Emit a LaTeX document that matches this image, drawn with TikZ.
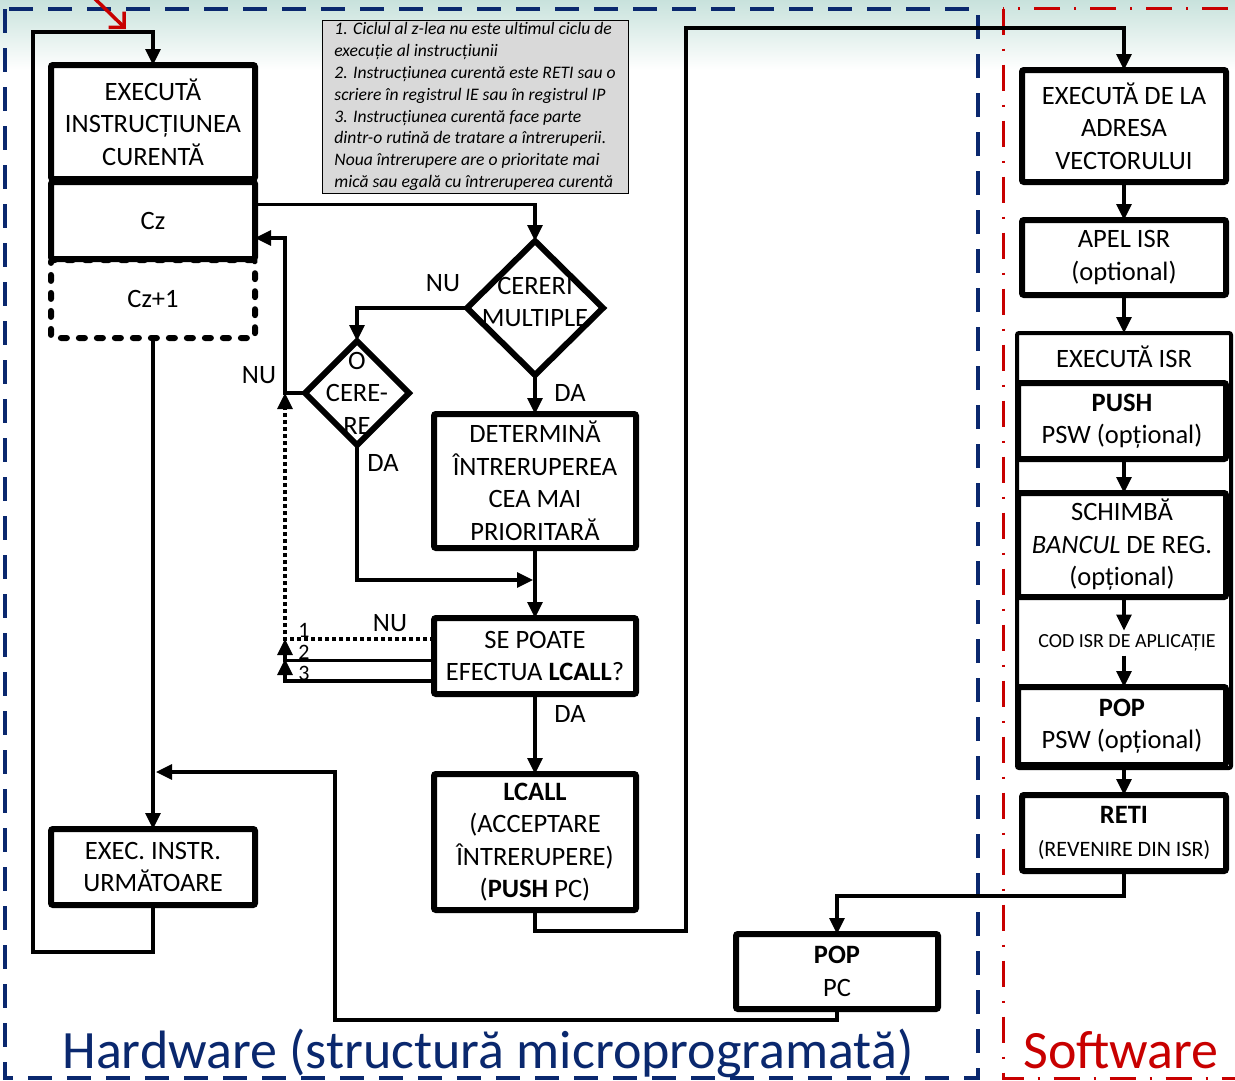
\documentclass[tikz,border=0pt]{standalone}
\usepackage{fontspec}
\setmainfont{Carlito}
\usetikzlibrary{arrows.meta,shapes.geometric}

\definecolor{hwblue}{RGB}{10,40,110}
\definecolor{swred}{RGB}{200,0,0}
\definecolor{notegray}{RGB}{217,217,217}
\definecolor{topteal}{RGB}{200,226,220}

\begin{document}
\begin{tikzpicture}[x=1pt,y=-1pt,
  every node/.style={inner sep=0pt, outer sep=0pt},
  txt/.style={font=\fontsize{26.5}{32.5}\selectfont, align=center},
  block/.style={txt, draw, line width=6pt, fill=white, rounded corners=2pt, minimum width=204pt},
  decision/.style={diamond, draw, line width=6pt, fill=white, inner sep=0pt},
  conn/.style={line width=3.2pt},
  arr/.style={conn, -{Triangle[length=16pt,width=15pt]}},
  lbl/.style={font=\fontsize{26.5}{32.5}\selectfont},
  num/.style={font=\fontsize{22}{24}\selectfont},
  region/.style={font=\fontsize{54}{60}\selectfont, anchor=base},
]
\useasboundingbox (0,0) rectangle (1235,1080);
\clip (0,0) rectangle (1235,1080);

% soft band along the top edge
\fill[top color=topteal, bottom color=white] (0,0) rectangle (1235,70);

% hardware / software frames
\draw[hwblue, line width=3.5pt, dash pattern=on 24pt off 15pt] (5,9) rectangle (978,1078);
\draw[swred, line width=3pt, dash pattern=on 26pt off 14pt on 2pt off 14pt] (1003,8.5) rectangle (1250,1078);

% ---------------- hardware column ----------------
\node[txt, draw, line width=6pt, rounded corners=2pt, dash pattern=on 6pt off 12pt, line cap=round,
      minimum width=204pt, minimum height=78pt] (czone) at (153,299) {Cz+1};
\node[block, minimum height=114pt] (execcur) at (153,122) {EXECUTĂ\\INSTRUCȚIUNEA\\CURENTĂ};
\node[block, minimum height=77pt] (cz) at (153,220.5) {Cz};
\node[block, minimum height=76pt] (nextinstr) at (153,867) {EXEC. INSTR.\\URMĂTOARE};

\node[draw, line width=1pt, fill=notegray, minimum width=306pt, minimum height=173pt,
      align=left, font=\fontsize{17.6}{21.9}\selectfont\itshape] (note) at (475,106.5)
  {1. Ciclul al z-lea nu este ultimul ciclu de\\
   execuție al instrucțiunii\\
   2. Instrucțiunea curentă este RETI sau o\\
   scriere în registrul IE sau în registrul IP\\
   3. Instrucțiunea curentă face parte\\
   dintr-o rutină de tratare a întreruperii.\\
   Noua întrerupere are o prioritate mai\\
   mică sau egală cu întreruperea curentă};

\node[decision, minimum width=136pt, minimum height=134pt] (cereri) at (535,308) {};
\node[txt] (cereritext) at (535,302) {CERERI\\MULTIPLE};
\node[decision, minimum width=104pt, minimum height=104pt] (ocerere) at (357,393) {};
\node[txt] (ocereretext) at (357,393) {O\\CERE-\\RE};

\node[block, minimum width=202pt, minimum height=134pt] (determ) at (535,481) {DETERMINĂ\\ÎNTRERUPEREA\\CEA MAI\\PRIORITARĂ};
\node[block, minimum width=202pt, minimum height=76pt] (sepoate) at (535,656) {SE POATE\\EFECTUA \textbf{LCALL}?};
\node[block, minimum width=202pt, minimum height=136pt] (lcall) at (535,842) {\textbf{LCALL}\\(ACCEPTARE\\ÎNTRERUPERE)\\(\textbf{PUSH} PC)};
\node[block, minimum width=202pt, minimum height=75pt] (poppc) at (837,971.5) {\textbf{POP}\\PC};

% ---------------- software column ----------------
\node[block, minimum height=112pt] (vector) at (1124,126) {EXECUTĂ DE LA\\ADRESA\\VECTORULUI};
\node[block, minimum height=75pt] (apel) at (1124,257.5) {APEL ISR\\(optional)};
\node[draw, line width=4pt, fill=white, rounded corners=2pt, minimum width=214pt, minimum height=435pt] (isr) at (1124,550.5) {};
\node[txt] (isrtitle) at (1124,357) {EXECUTĂ ISR};
\node[block, minimum width=208pt, minimum height=76pt] (push) at (1122,421) {\textbf{PUSH}\\PSW (opțional)};
\node[block, minimum width=208pt, minimum height=104pt] (schimba) at (1122,545) {SCHIMBĂ\\\textit{BANCUL} DE REG.\\(opțional)};
\node[font=\fontsize{20}{24}\selectfont, minimum height=25pt] (cod) at (1127,643) {COD ISR DE APLICAȚIE};
\node[block, minimum width=208pt, minimum height=78pt] (pop) at (1122,726) {\textbf{POP}\\PSW (opțional)};
\node[block, minimum height=76pt] (reti) at (1124,833) {\textbf{RETI}\\{\fontsize{22}{27}\selectfont (REVENIRE DIN ISR)}};

% ---------------- bend points ----------------
\coordinate (loopbl) at (33,952);
\coordinate (looptl) at (33,32);
\coordinate (jx) at (285,393);
\coordinate (t1) at (285,639);
\coordinate (t2) at (285,659);
\coordinate (mrg) at (533,580);
\coordinate (lc1) at (686,931);
\coordinate (lc2) at (686,28);
\coordinate (rb) at (1124,896);
\coordinate (pb1) at (335,1020);
\coordinate (pb2) at (335,772);
\coordinate (pb3) at (156,772);
\coordinate (redtail) at (90,-6);
\coordinate (redhead) at (126,29);

% ---------------- connectors ----------------
\draw[arr] (nextinstr.south) |- (loopbl) -- (looptl) -| (execcur.north);
\draw[arr] (czone.south) -- (nextinstr.north);
\draw[arr] ([yshift=16pt]cz.east) -| (cereri.north);
\draw[arr] (cereri.west) -| (ocerere.north);
\draw[arr] (ocerere.west) -- (jx) |- ([yshift=-17.5pt]cz.east);
\draw[arr] (ocerere.south) |- (mrg);
\draw[arr] (cereri.south) -- (determ.north);
\draw[arr] (determ.south) -- (sepoate.north);
\draw[conn, dash pattern=on 4pt off 3pt, -{Triangle[length=16pt,width=15pt]}] ([yshift=17pt]sepoate.west) -| (jx);
\draw[arr] ([yshift=-4.5pt]sepoate.west) -| (t1);
\draw[arr] ([yshift=-25pt]sepoate.west) -| (t2);
\draw[arr] (sepoate.south) -- (lcall.north);
\draw[arr] (lcall.south) |- (lc1) -- (lc2) -| (vector.north);
\draw[arr] (vector.south) -- (apel.north);
\draw[arr] (apel.south) -- (isr.north);
\draw[arr] (push.south -| isr) -- (schimba.north -| isr);
\draw[arr] (schimba.south -| isr) -- (cod.north -| isr);
\draw[arr] (cod.south -| isr) -- (pop.north -| isr);
\draw[arr] (isr.south) -- (reti.north);
\draw[arr] (reti.south) -- (rb) -| (poppc.north);
\draw[arr] (poppc.south) |- (pb1) -- (pb2) -- (pb3);
\draw[swred, line width=3.5pt, -{Straight Barb[length=11pt,width=22pt]}] (redtail) -- (redhead);

% ---------------- branch labels ----------------
\node[lbl] (nu1) at (443,283) {NU};
\node[lbl] (da1) at (570,393) {DA};
\node[lbl] (nu2) at (259,375) {NU};
\node[lbl] (da2) at (383,463) {DA};
\node[lbl] (nu3) at (390,623) {NU};
\node[lbl] (da3) at (570,714) {DA};
\node[num] (n1) at (304,630) {1};
\node[num] (n2) at (304,652) {2};
\node[num] (n3) at (304,673) {3};

% ---------------- region titles ----------------
\node[region, text=hwblue] (hwtitle) at (488,1068) {Hardware (structură microprogramată)};
\node[region, text=swred] (swtitle) at (1121,1068) {Software};
\end{tikzpicture}
\end{document}
